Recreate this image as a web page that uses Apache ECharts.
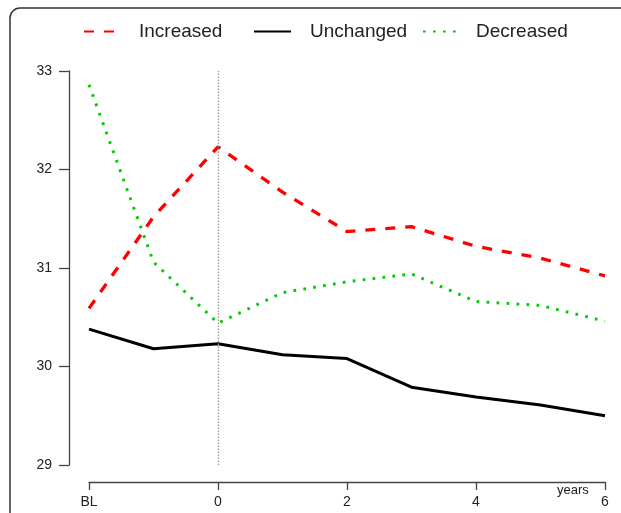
<!DOCTYPE html>
<html>
<head>
<meta charset="utf-8">
<script src="https://cdn.jsdelivr.net/npm/echarts@6/dist/echarts.min.js"></script>
<style>
html,body{margin:0;padding:0;background:#fff;}
#c{width:621px;height:513px;}
</style>
</head>
<body>
<div id="c"></div>
<script>
// time points: -2 represents baseline (BL)
var timepoints = [-2, -1, 0, 1, 2, 3, 4, 5, 6];
var xTickLabels = {"-2": "BL", "0": "0", "2": "2", "4": "4", "6": "6"};
var increased = [30.59, 31.52, 32.23, 31.77, 31.37, 31.42, 31.22, 31.10, 30.92];
var unchanged = [30.38, 30.18, 30.23, 30.12, 30.08, 29.79, 29.69, 29.61, 29.50];
var decreased = [32.86, 31.06, 30.44, 30.75, 30.86, 30.94, 30.66, 30.62, 30.46];
var seriesNames = ["Increased", "Unchanged", "Decreased"];

function pairs(vals){ return timepoints.map(function(t,i){ return [t, vals[i]]; }); }

var FONT = "'Liberation Sans', Arial, Helvetica, sans-serif";
var chart = echarts.init(document.getElementById('c'), null, {renderer:'canvas'});

function legendAt(name, left, w, pad){
  return {
    data:[name], left:left, top:22, padding:0, itemWidth:w, itemHeight:20,
    itemStyle:{opacity:0},
    lineStyle:{opacity:1},
    textStyle:{fontFamily:FONT, fontSize:19, color:'#222', padding:[0,0,0,pad]},
    selectedMode:false
  };
}

chart.setOption({
  animation:false,
  backgroundColor:'#fff',
  textStyle:{fontFamily:FONT},
  graphic:[
    {type:'rect', shape:{x:10, y:8, width:700, height:600, r:10}, style:{fill:'none', stroke:'#333', lineWidth:1.5}, z:0},
    {type:'text', left:557, top:484, style:{text:'years', fontFamily:FONT, fontSize:13, fill:'#222'}}
  ],
  legend:[
    legendAt(seriesNames[0], 83, 33, 17),
    legendAt(seriesNames[1], 253, 37, 14),
    legendAt(seriesNames[2], 422, 35, 13)
  ],
  grid:{left:89, right:16, top:71, bottom:48},
  xAxis:{
    type:'value', min:-2, max:6, interval:2, offset:17,
    axisLine:{show:true, onZero:false, lineStyle:{color:'#444', width:1.3}},
    axisTick:{show:true, inside:false, length:8, lineStyle:{color:'#444', width:1.3}},
    axisLabel:{margin:13, fontSize:14, color:'#222', fontFamily:FONT,
      formatter:function(v){ var k = String(v); return xTickLabels[k] !== undefined ? xTickLabels[k] : ''; }},
    splitLine:{show:false}
  },
  yAxis:{
    type:'value', min:29, max:33, interval:1, offset:20,
    axisLine:{show:true, onZero:false, lineStyle:{color:'#444', width:1.3}},
    axisTick:{show:true, length:10, lineStyle:{color:'#444', width:1.3}},
    axisLabel:{margin:17, fontSize:14, color:'#222', fontFamily:FONT},
    splitLine:{show:false}
  },
  series:[
    {name:seriesNames[0], type:'line', data:pairs(increased), symbol:'none', showSymbol:false,
     lineStyle:{color:'#ff0000', width:3.3, type:[10,10], cap:'butt'}, itemStyle:{color:'#ff0000'},
     markLine:{silent:true, symbol:'none', label:{show:false},
       lineStyle:{color:'#999', type:[1.5,1.5], width:1.3}, data:[{xAxis:0}]}},
    {name:seriesNames[1], type:'line', data:pairs(unchanged), symbol:'none', showSymbol:false,
     lineStyle:{color:'#000', width:3}, itemStyle:{color:'#000'}},
    {name:seriesNames[2], type:'line', data:pairs(decreased), symbol:'none', showSymbol:false,
     lineStyle:{color:'#00cd00', width:3, type:[2.7,7.3], cap:'butt'}, itemStyle:{color:'#00cd00'}}
  ]
});
</script>
</body>
</html>
